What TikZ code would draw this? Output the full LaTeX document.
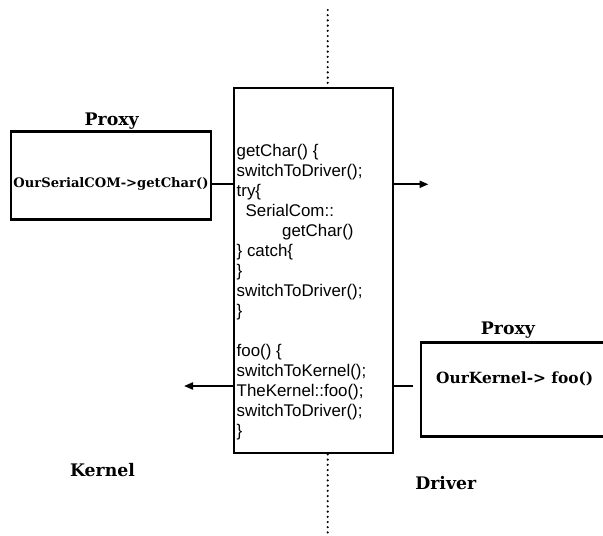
\documentclass[tikz,border=0pt]{standalone}
\usepackage{fontspec}
\setmainfont{DejaVu Serif}
\newfontfamily\arialfont{Liberation Sans}
\usetikzlibrary{arrows.meta}
\tikzset{
  box/.style={draw, line width=2.8pt, rectangle, inner sep=0pt},
  lbl/.style={font=\fontsize{17.3}{20}\selectfont\bfseries, inner sep=0pt, anchor=base},
  codefont/.style={font=\arialfont\fontsize{16.9}{20}\selectfont},
  conn/.style={line width=2pt},
  arr/.style={line width=2pt, -{Triangle[length=9pt,width=7pt]}},
  sep/.style={line width=2.4pt, line cap=round, dash pattern=on 0pt off 5.2pt},
}
\begin{document}
\begin{tikzpicture}[x=1pt,y=-1pt]
\useasboundingbox (0,0) rectangle (603,536);
\clip (0,0) rectangle (603,536);
% main box
\node[box, minimum width=159pt, minimum height=365pt] (main) at (313.5,270.5) {};
\node[codefont, anchor=north west, inner sep=0pt, align=left] (code) at (236.5,144.5) {getChar() \{\\
switchToDriver();\\
try\{\\
\hspace{9pt}SerialCom::\\
\hspace{45.5pt}getChar()\\
\} catch\{\\
\}\\
switchToDriver();\\
\}\\
\mbox{}\\
foo() \{\\
switchToKernel();\\
TheKernel::foo();\\
switchToDriver();\\
\}};
% separator
\coordinate (sepT) at (327.7,10);
\coordinate (sepB) at (327.7,536);
\draw[sep] (sepT) -- (sepT |- main.north);
\draw[sep] (sepT |- main.south) -- (sepB);
% left proxy
\node[box, minimum width=200pt, minimum height=87.5pt] (lp) at (111,175.4) {};
\node[lbl] (lpl) at (111.7,125) {Proxy};
\node[font=\fontsize{13.1}{15}\selectfont\bfseries, inner sep=0pt, anchor=base] (lpt) at (111,187) {OurSerialCOM->getChar()};
% right proxy
\node[box, minimum width=187pt, minimum height=94pt] (rp) at (514.5,389.2) {};
\node[lbl] (rpl) at (508,334) {Proxy};
\node[font=\fontsize{15.4}{18}\selectfont\bfseries, inner sep=0pt, anchor=base] (rpt) at (514.7,383) {OurKernel-> foo()};
% connectors
\coordinate (ya) at (0,184.3);
\coordinate (yb) at (0,386);
\coordinate (outR) at (428.5,184.3);
\coordinate (outL) at (184,386);
\draw[conn] (lp.east |- ya) -- (main.west |- ya);
\draw[arr] (main.east |- ya) -- (outR);
\draw[arr] (main.west |- yb) -- (outL);
\draw[conn, shorten >=7pt] (main.east |- yb) -- (rp.west |- yb);
% region labels
\node[lbl] (kern) at (102.5,476.7) {Kernel};
\node[lbl] (drv) at (445.8,489.3) {Driver};
\end{tikzpicture}
\end{document}
